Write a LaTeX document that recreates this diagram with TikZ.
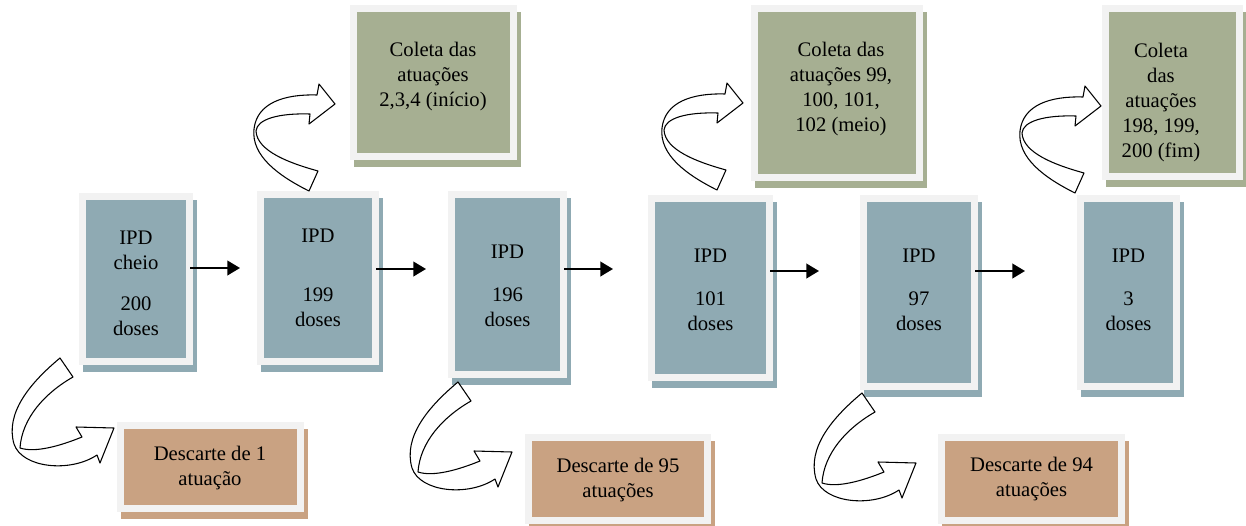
\documentclass[tikz,border=0pt]{standalone}
\usepackage{fontspec}
\setmainfont{Liberation Serif}
\usetikzlibrary{arrows.meta,positioning}

\definecolor{ipdcol}{RGB}{143,170,179}
\definecolor{colcol}{RGB}{166,175,146}
\definecolor{descol}{RGB}{201,162,130}
\definecolor{panel}{RGB}{242,242,242}

\begin{document}
\begin{tikzpicture}[x=0.75pt,y=-0.75pt,>={Triangle[length=9.5pt,width=11pt]},
  box/.style={rectangle,inner sep=0pt,fill=#1,
    preaction={draw=#1,fill=#1,line width=10.5pt,transform canvas={xshift=3pt,yshift=-5pt}},
    preaction={draw=panel,line width=10.5pt}}]

  \tikzstyle{txt}=[font=\fontsize{15.5}{18.75}\selectfont,align=center,inner sep=0pt,anchor=north]
  \tikzstyle{flow}=[->,line width=1.5pt,shorten <=3pt]
  \tikzstyle{bent}=[draw=black,fill=white,line width=0.8pt,line join=round]

  \tikzset{
    curlup/.pic={
      \path[bent] (0,0) .. controls (-30,-15) and (-58,-35) .. (-55,-62)
        .. controls (-52,-88) and (-25,-97) .. (8,-96)
        -- (10,-107) -- (26,-87) -- (0,-67) -- (1,-77)
        .. controls (-30,-78) and (-52,-72) .. (-53,-60)
        .. controls (-52,-40) and (-20,-28) .. (9,-20) -- cycle;
    },
    curldown/.pic={
      \path[bent] (0,0) .. controls (-30,25) and (-55,55) .. (-46,86)
        .. controls (-38,110) and (10,115) .. (37,97)
        -- (40,105) -- (54,70) -- (16,69) -- (22,79)
        .. controls (0,88) and (-25,95) .. (-40,90)
        .. controls (-38,60) and (-15,35) .. (13,19) -- cycle;
    }
  }

  \useasboundingbox (0,0) rectangle (1246,525);

  \node[box=ipdcol,minimum width=75pt,minimum height=118.5pt]    (ipd1) at (136,279)     {};
  \node[box=ipdcol,minimum width=81pt,minimum height=120pt]      (ipd2) at (318,278)     {};
  \node[box=ipdcol,minimum width=78.75pt,minimum height=129.75pt] (ipd3) at (507.5,284.5) {};
  \node[box=ipdcol,minimum width=83.25pt,minimum height=129pt]   (ipd4) at (710.5,288)   {};
  \node[box=ipdcol,minimum width=78pt,minimum height=135.75pt]   (ipd5) at (919,292.5)   {};
  \node[box=ipdcol,minimum width=66.75pt,minimum height=135.75pt] (ipd6) at (1128.5,292.5) {};

  \node[box=colcol,minimum width=114.75pt,minimum height=105.75pt] (col1) at (433.5,82.5) {};
  \node[box=colcol,minimum width=118.5pt,minimum height=121.5pt]   (col2) at (837,93)     {};
  \node[box=colcol,minimum width=95.25pt,minimum height=120.75pt]  (col3) at (1172.5,92.5) {};

  \node[box=descol,minimum width=129.75pt,minimum height=57pt] (des1) at (210.5,467)  {};
  \node[box=descol,minimum width=129pt,minimum height=57pt]    (des2) at (618,479)    {};
  \node[box=descol,minimum width=129.75pt,minimum height=57pt] (des3) at (1031.5,479) {};

  \node[txt] (ipd1t) at (136,231)    {IPD\\cheio\\[12pt]200\\doses};
  \node[txt] (ipd2t) at (318,229)    {IPD\\[25.5pt]199\\doses};
  \node[txt] (ipd3t) at (507.5,245)  {IPD\\[13.5pt]196\\doses};
  \node[txt] (ipd4t) at (710.5,249)  {IPD\\[13.5pt]101\\doses};
  \node[txt] (ipd5t) at (919,249)    {IPD\\[13.5pt]97\\doses};
  \node[txt] (ipd6t) at (1128.5,249) {IPD\\[13.5pt]3\\doses};

  \node[txt] (col1t) at (433,42)  {Coleta das\\atuações\\2,3,4 (início)};
  \node[txt] (col2t) at (841,42)  {Coleta das\\atuações 99,\\100, 101,\\102 (meio)};
  \node[txt] (col3t) at (1161,43) {Coleta\\das\\atuações\\198, 199,\\200 (fim)};

  \node[txt] (des1t) at (210,446)    {Descarte de 1\\atuação};
  \node[txt] (des2t) at (618,458)    {Descarte de 95\\atuações};
  \node[txt] (des3t) at (1031.5,457) {Descarte de 94\\atuações};

  \coordinate (h1) at (240,268);
  \coordinate (h2) at (426,269);
  \coordinate (h3) at (613,269);
  \coordinate (h4) at (819,271);
  \coordinate (h5) at (1025,271);

  \draw[flow] (ipd1.east |- h1) -- (h1);
  \draw[flow] (ipd2.east |- h2) -- (h2);
  \draw[flow] (ipd3.east |- h3) -- (h3);
  \draw[flow] (ipd4.east |- h4) -- (h4);
  \draw[flow] (ipd5.east |- h5) -- (h5);

  \pic (up1) at (309,191)  {curlup};
  \pic (up2) at (717,190)  {curlup};
  \pic (up3) at (1075,193) {curlup};

  \pic (dn1) at (60,358)  {curldown};
  \pic (dn2) at (458,382) {curldown};
  \pic (dn3) at (862,393) {curldown};

\end{tikzpicture}
\end{document}
